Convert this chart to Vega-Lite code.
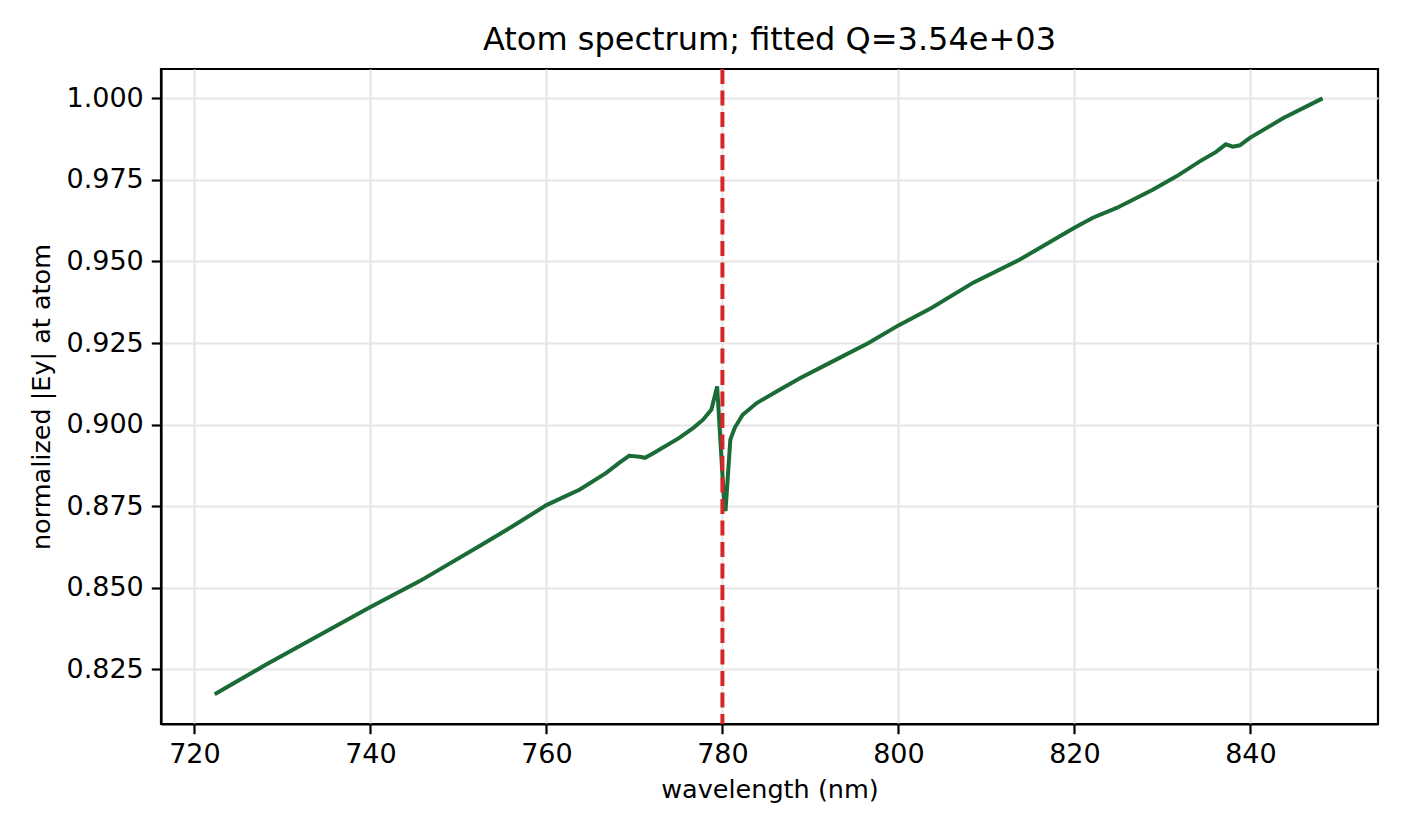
{
  "$schema": "https://vega.github.io/schema/vega-lite/v6.json",
  "autosize": "none",
  "padding": {"left": 161, "top": 69, "right": 28, "bottom": 112},
  "width": 1217,
  "height": 655,
  "background": "white",
  "title": {
    "text": "Atom spectrum; fitted Q=3.54e+03",
    "font": "DejaVu Sans",
    "fontSize": 32,
    "fontWeight": "normal",
    "color": "black",
    "anchor": "middle",
    "baseline": "bottom",
    "offset": -22
  },
  "config": {
    "view": {"stroke": "black", "strokeWidth": 2.2},
    "axis": {
      "labelFont": "DejaVu Sans",
      "labelFontSize": 27,
      "labelColor": "black",
      "titleFont": "DejaVu Sans",
      "titleFontSize": 25.5,
      "titleFontWeight": "normal",
      "titleColor": "black",
      "domainColor": "black",
      "domainWidth": 2.2,
      "tickColor": "black",
      "tickWidth": 2.2,
      "tickSize": 9.7,
      "labelPadding": 8,
      "grid": true,
      "gridColor": "#e6e6e6",
      "gridWidth": 2.2
    }
  },
  "data": {
    "values": [
      {"wavelength": 722.3, "E": 0.8173},
      {"wavelength": 728.2, "E": 0.8265},
      {"wavelength": 739.9, "E": 0.8439},
      {"wavelength": 745.6, "E": 0.852},
      {"wavelength": 752.5, "E": 0.8629},
      {"wavelength": 756.2, "E": 0.8689},
      {"wavelength": 760.0, "E": 0.8753},
      {"wavelength": 763.8, "E": 0.8801},
      {"wavelength": 766.8, "E": 0.8852},
      {"wavelength": 768.3, "E": 0.8883},
      {"wavelength": 769.4, "E": 0.8904},
      {"wavelength": 770.6, "E": 0.8901},
      {"wavelength": 771.2, "E": 0.8898},
      {"wavelength": 772.1, "E": 0.8911},
      {"wavelength": 775.1, "E": 0.8959},
      {"wavelength": 776.7, "E": 0.899},
      {"wavelength": 777.8, "E": 0.9015},
      {"wavelength": 778.75, "E": 0.9046},
      {"wavelength": 779.4, "E": 0.9117},
      {"wavelength": 780.15, "E": 0.8781},
      {"wavelength": 780.35, "E": 0.8735},
      {"wavelength": 780.9, "E": 0.8954},
      {"wavelength": 781.4, "E": 0.899},
      {"wavelength": 782.3, "E": 0.903},
      {"wavelength": 783.9, "E": 0.9066},
      {"wavelength": 786.5, "E": 0.9107},
      {"wavelength": 788.8, "E": 0.9142},
      {"wavelength": 792.2, "E": 0.9189},
      {"wavelength": 796.6, "E": 0.925},
      {"wavelength": 800.0, "E": 0.9304},
      {"wavelength": 803.8, "E": 0.9358},
      {"wavelength": 808.5, "E": 0.9435},
      {"wavelength": 813.8, "E": 0.9506},
      {"wavelength": 820.0, "E": 0.9603},
      {"wavelength": 822.1, "E": 0.9634},
      {"wavelength": 824.8, "E": 0.9664},
      {"wavelength": 828.9, "E": 0.972},
      {"wavelength": 831.6, "E": 0.9761},
      {"wavelength": 834.2, "E": 0.9806},
      {"wavelength": 836.1, "E": 0.9836},
      {"wavelength": 837.2, "E": 0.9859},
      {"wavelength": 838.0, "E": 0.9852},
      {"wavelength": 838.8, "E": 0.9856},
      {"wavelength": 839.9, "E": 0.9878},
      {"wavelength": 843.7, "E": 0.9939},
      {"wavelength": 848.2, "E": 1.0}
    ]
  },
  "layer": [
    {
      "mark": {"type": "line", "color": "#1b6b37", "strokeWidth": 4},
      "encoding": {
        "x": {
          "field": "wavelength",
          "type": "quantitative",
          "scale": {"domain": [716.2, 854.5], "nice": false, "zero": false},
          "axis": {"title": "wavelength (nm)", "values": [720, 740, 760, 780, 800, 820, 840], "format": "d", "titlePadding": 10}
        },
        "y": {
          "field": "E",
          "type": "quantitative",
          "scale": {"domain": [0.8082, 1.009], "nice": false, "zero": false},
          "axis": {"title": "normalized |Ey| at atom", "values": [0.825, 0.85, 0.875, 0.9, 0.925, 0.95, 0.975, 1.0], "format": ".3f", "titlePadding": 12}
        }
      }
    },
    {
      "data": {"values": [{"lambda0": 780.0}]},
      "mark": {"type": "rule", "color": "#d62728", "strokeWidth": 4, "strokeDash": [15, 6.5]},
      "encoding": {
        "x": {"field": "lambda0", "type": "quantitative"}
      }
    }
  ]
}
